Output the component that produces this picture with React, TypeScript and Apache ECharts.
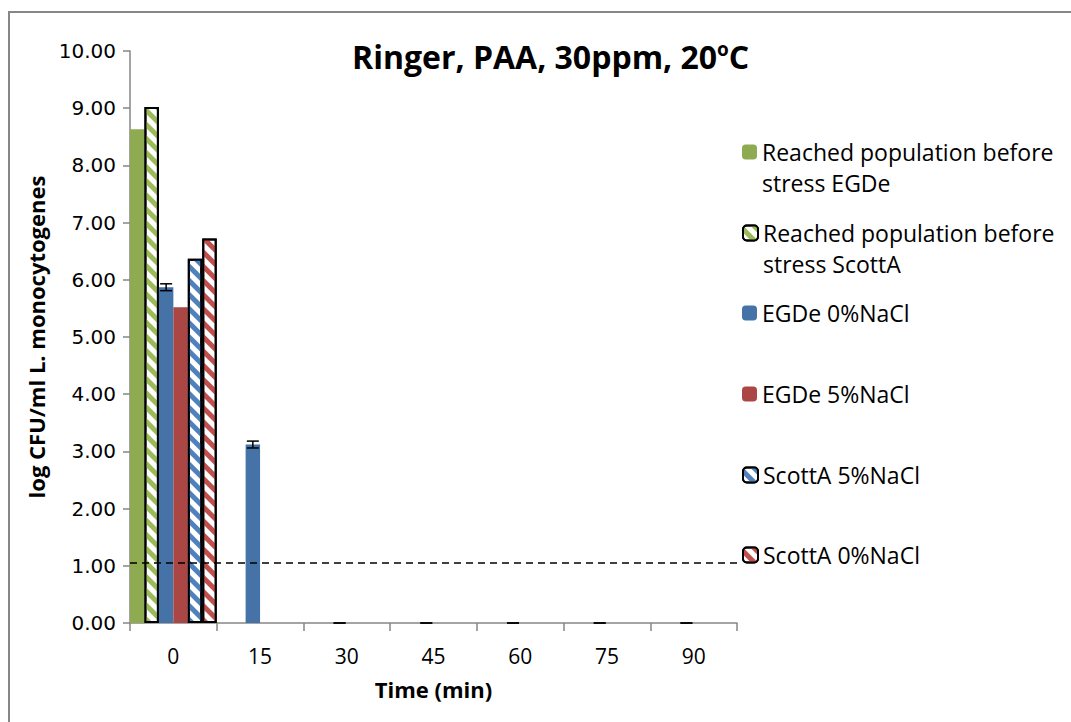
import React, { useEffect, useRef } from "react";
import * as echarts from "echarts";

const categories = ["0", "15", "30", "45", "60", "75", "90"];
const popEGDe = [8.63, null, null, null, null, null, null];
const popScottA = [9.02, null, null, null, null, null, null];
const egde0 = [5.87, 3.12, 0, 0, 0, 0, 0];
const egde0Err = [0.06, 0.06, 0, 0, 0, 0, 0];
const egde5 = [5.52, null, null, null, null, null, null];
const scott5 = [6.37, null, null, null, null, null, null];
const scott0 = [6.72, null, null, null, null, null, null];
const detectionLimit = 1.05;
const yTicks = { min: 0, max: 10, interval: 1 };

const names = [
  "Reached population before stress EGDe",
  "Reached population before stress ScottA",
  "EGDe 0%NaCl",
  "EGDe 5%NaCl",
  "ScottA 5%NaCl",
  "ScottA 0%NaCl",
];

const FONT = "'Open Sans', 'Noto Sans', sans-serif";

function hatch(color: string) {
  return {
    color: "#ffffff",
    borderColor: "#000000",
    borderWidth: 2,
    decal: {
      symbol: "rect",
      symbolSize: 1,
      color,
      dashArrayX: [1, 0],
      dashArrayY: [5, 5],
      rotation: Math.PI / 4,
    },
  };
}

export default function App() {
  const ref = useRef<HTMLDivElement>(null);
  useEffect(() => {
    if (!ref.current) return;
    const chart = echarts.init(ref.current, undefined, { renderer: "svg" });
    const nSeries = 6;
    const errSlot = 2;
    const errData = categories.map((_, i) => [i, egde0[i] - egde0Err[i], egde0[i] + egde0Err[i]]);

    const legendTops = [87.5, 168.5, 280, 361, 442, 522];
    const legends = names.map((n, i) => {
      const twoLine = i < 2;
      return {
        data: [n],
        left: 727,
        top: legendTops[i],
        itemWidth: 15,
        itemHeight: 15,
        selectedMode: false,
        formatter: (name: string) =>
          twoLine ? "\n" + name.replace(" stress", "\nstress") : name,
        textStyle: {
          fontFamily: FONT,
          fontSize: 23,
          color: "#000",
          lineHeight: twoLine ? 31 : 30,
        },
      };
    });

    chart.setOption({
      animation: false,
      backgroundColor: "#ffffff",
      title: {
        text: "{a|Ringer, PAA, 30ppm, 20}{b|o}{a|C}",
        left: 337,
        top: 21,
        textStyle: {
          rich: {
            a: { fontFamily: FONT, fontSize: 32, fontWeight: "bold", color: "#000" },
            b: {
              fontFamily: FONT,
              fontSize: 19,
              fontWeight: "bold",
              color: "#000",
              padding: [0, 0, 15, 0],
            },
          },
        },
      },
      legend: legends,
      grid: { left: 120, top: 38, width: 607, height: 572, containLabel: false },
      xAxis: {
        type: "category",
        data: categories,
        name: "Time (min)",
        nameLocation: "middle",
        nameGap: 55,
        nameTextStyle: { fontFamily: FONT, fontSize: 22, fontWeight: "bold", color: "#000" },
        axisLine: { lineStyle: { color: "#868686", width: 1.5 } },
        axisTick: { show: true, length: 8, lineStyle: { color: "#868686", width: 1.5 } },
        axisLabel: { fontFamily: FONT, fontSize: 21, color: "#000", margin: 22 },
      },
      yAxis: {
        type: "value",
        min: yTicks.min,
        max: yTicks.max,
        interval: yTicks.interval,
        name: "log CFU/ml L. monocytogenes",
        nameLocation: "middle",
        nameRotate: 90,
        nameGap: 83,
        nameTextStyle: { fontFamily: FONT, fontSize: 22, fontWeight: "bold", color: "#000" },
        splitLine: { show: false },
        axisLine: { show: true, lineStyle: { color: "#868686", width: 1.5 } },
        axisTick: { show: true, length: 7, lineStyle: { color: "#868686", width: 1.5 } },
        axisLabel: {
          fontFamily: "'DejaVu Sans', sans-serif",
          fontSize: 20,
          color: "#000",
          margin: 14,
          formatter: (v: number) => v.toFixed(2),
        },
      },
      series: [
        {
          name: names[0],
          type: "bar",
          data: popEGDe,
          barGap: "0%",
          barCategoryGap: "0%",
          itemStyle: { color: "#8eab52" },
        },
        { name: names[1], type: "bar", data: popScottA, itemStyle: hatch("#9bbb59") },
        {
          name: names[2],
          type: "bar",
          data: egde0,
          itemStyle: { color: "#4572a7" },
          markLine: {
            silent: true,
            symbol: "none",
            label: { show: false },
            lineStyle: { color: "#000", type: [7, 5], width: 1.5 },
            data: [{ yAxis: detectionLimit }],
          },
        },
        { name: names[3], type: "bar", data: egde5, itemStyle: { color: "#aa4643" } },
        { name: names[4], type: "bar", data: scott5, itemStyle: hatch("#4f81bd") },
        { name: names[5], type: "bar", data: scott0, itemStyle: hatch("#c0504d") },
        {
          type: "custom",
          name: "err",
          data: errData,
          encode: { x: 0, y: [1, 2] },
          z: 10,
          renderItem: (params: any, api: any) => {
            const idx = api.value(0);
            const lo = api.coord([idx, api.value(1)]);
            const hi = api.coord([idx, api.value(2)]);
            const band = api.size([1, 0])[0];
            const cx = lo[0] + band * ((errSlot + 0.5) / nSeries - 0.5);
            const cap = 6;
            const style = { stroke: "#000", lineWidth: 1.5 };
            return {
              type: "group",
              children: [
                { type: "line", shape: { x1: cx, y1: lo[1], x2: cx, y2: hi[1] }, style },
                { type: "line", shape: { x1: cx - cap, y1: lo[1], x2: cx + cap, y2: lo[1] }, style },
                { type: "line", shape: { x1: cx - cap, y1: hi[1], x2: cx + cap, y2: hi[1] }, style },
              ],
            };
          },
        },
      ],
    });
    return () => chart.dispose();
  }, []);

  return (
    <div
      style={{
        position: "absolute",
        left: 8,
        top: 11,
        width: 1063,
        height: 711,
        boxSizing: "border-box",
        borderTop: "2px solid #878787",
        borderLeft: "2px solid #878787",
        overflow: "hidden",
        background: "#fff",
      }}
    >
      <div ref={ref} style={{ width: 1061, height: 709 }} />
    </div>
  );
}
